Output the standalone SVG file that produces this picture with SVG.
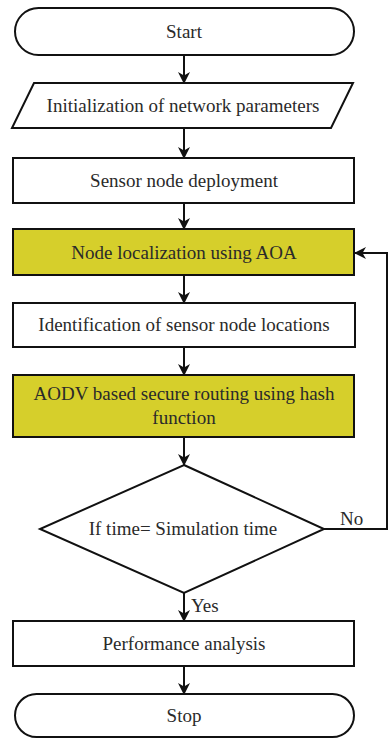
<svg xmlns="http://www.w3.org/2000/svg" width="389" height="738" viewBox="0 0 389 738">
<style>
.s{fill:#fff;stroke:#111;stroke-width:2}
.y{fill:#d6cf2b;stroke:#111;stroke-width:2}
.t{font-family:"Liberation Serif","Times New Roman",serif;font-size:19px;fill:#2a2a2a;text-anchor:middle}
.l{font-family:"Liberation Serif","Times New Roman",serif;font-size:19px;fill:#2a2a2a}
.c{fill:none;stroke:#111;stroke-width:2}
</style>
<defs>
<marker id="a" markerWidth="12" markerHeight="12" refX="11" refY="6" orient="auto" markerUnits="userSpaceOnUse">
<path d="M0,0 L12,6 L0,12 L3.5,6 Z" fill="#111"/>
</marker>
</defs>
<rect width="389" height="738" fill="#fff"/>
<g id="connectors">
<line class="c" x1="184" y1="55" x2="184" y2="83" marker-end="url(#a)"/>
<line class="c" x1="184" y1="128" x2="184" y2="158" marker-end="url(#a)"/>
<line class="c" x1="184" y1="203" x2="184" y2="229" marker-end="url(#a)"/>
<line class="c" x1="184" y1="275" x2="184" y2="303" marker-end="url(#a)"/>
<line class="c" x1="184" y1="347" x2="184" y2="375" marker-end="url(#a)"/>
<line class="c" x1="184" y1="437" x2="184" y2="465" marker-end="url(#a)"/>
<line class="c" x1="184" y1="593" x2="184" y2="621" marker-end="url(#a)"/>
<line class="c" x1="184" y1="666" x2="184" y2="694" marker-end="url(#a)"/>
<polyline class="c" points="324,529 387,529 387,253 355,253" marker-end="url(#a)"/>
<text class="l" x="340" y="525">No</text>
<text class="l" x="191" y="612">Yes</text>
</g>
<g id="start">
<rect class="s" x="15" y="8" width="339" height="47" rx="23.5"/>
<text class="t" x="184" y="38">Start</text>
</g>
<g id="init">
<polygon class="s" points="34,83 353,83 331,128 12,128"/>
<text class="t" x="183" y="112">Initialization of network parameters</text>
</g>
<g id="deploy">
<rect class="s" x="13" y="158" width="341" height="45"/>
<text class="t" x="184" y="187">Sensor node deployment</text>
</g>
<g id="localize">
<rect class="y" x="13" y="229" width="341" height="46"/>
<text class="t" x="184" y="259">Node localization using AOA</text>
</g>
<g id="identify">
<rect class="s" x="13" y="303" width="342" height="44"/>
<text class="t" x="184" y="331">Identification of sensor node locations</text>
</g>
<g id="aodv">
<rect class="y" x="13" y="375" width="341" height="62"/>
<text class="t" x="184" y="400">AODV based secure routing using hash</text>
<text class="t" x="184" y="424">function</text>
</g>
<g id="decision">
<polygon class="s" points="184,465 324,529 184,593 40,529"/>
<text class="t" x="183" y="535">If time= Simulation time</text>
</g>
<g id="perf">
<rect class="s" x="13" y="621" width="341" height="45"/>
<text class="t" x="184" y="650">Performance analysis</text>
</g>
<g id="stop">
<rect class="s" x="15" y="694" width="339" height="43" rx="21.5"/>
<text class="t" x="184" y="722">Stop</text>
</g>
</svg>
